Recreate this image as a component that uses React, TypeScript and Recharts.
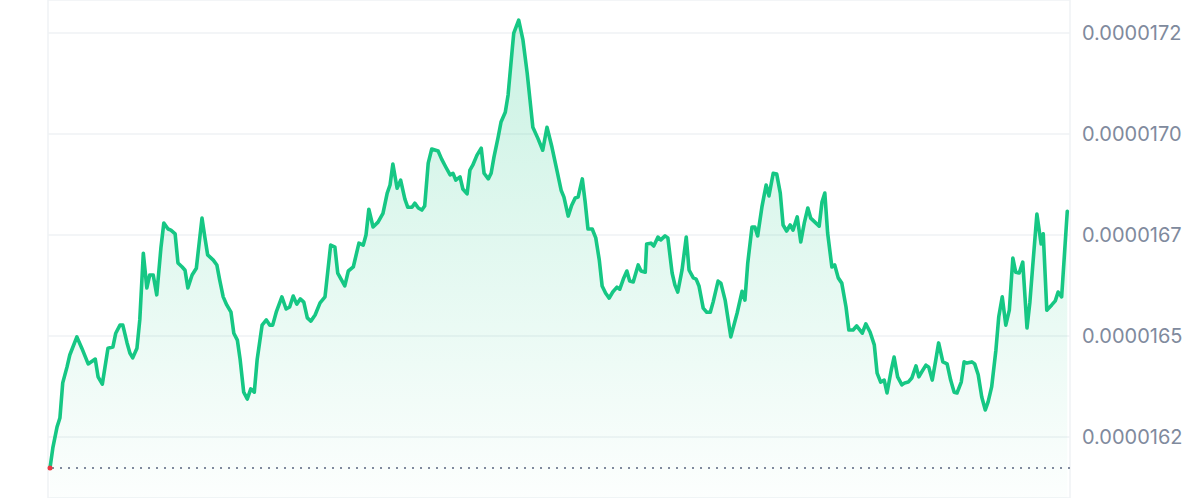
import React from 'react';
import {
  ComposedChart,
  Area,
  XAxis,
  YAxis,
  CartesianGrid,
  ReferenceLine,
  ReferenceDot,
} from 'recharts';

// minutes since start of the 24h window
const times = [
  0, 4, 10, 14, 18, 24, 28, 38, 45, 54, 64, 68, 74, 82, 89, 93, 99, 103, 109, 113,
  117, 123, 127, 132, 137, 141, 146, 151, 157, 161, 167, 171, 177, 181, 187, 191, 195, 201, 207, 215,
  219, 223, 231,
  236, 240, 245, 250, 256, 260, 265, 269, 274, 279, 284, 289, 293, 300, 306, 311, 315, 320, 328, 334,
  339, 344, 349, 354, 359, 364, 369, 375, 382, 389, 397, 403, 407, 417, 422, 429, 437, 443, 447, 451,
  457, 464,
  471, 477, 481, 485, 491, 496, 502, 506, 512, 516, 521, 526, 530, 535, 540, 549, 554, 560, 566, 570,
  574, 580, 584, 590, 594, 598, 604, 610, 614, 620, 624, 628, 634, 638, 644, 648, 654, 656, 663, 669,
  675, 679, 683, 690, 697,
  703, 710, 717, 723, 727, 733, 738, 743, 747, 753, 757, 761, 767, 772, 777, 781, 786, 791, 796, 802,
  806, 811, 816, 820, 825, 832, 836, 842, 844, 850, 854, 860, 864, 870, 874, 880, 884, 888, 894, 900,
  904, 910, 914, 918, 924, 929,
  934, 938, 945, 949, 955, 963, 972, 979, 983, 987, 993, 997, 1001, 1007, 1013, 1017, 1023, 1028, 1033, 1037,
  1042, 1047, 1051, 1057, 1062, 1067, 1072, 1076, 1082, 1088, 1092, 1096, 1100, 1106, 1110, 1115, 1120, 1126, 1130, 1136,
  1141, 1149, 1154, 1160,
  1166, 1170, 1175, 1180, 1184, 1190, 1194, 1199, 1205, 1209, 1214, 1219, 1225, 1229, 1233, 1239, 1243, 1248, 1253, 1257,
  1263, 1269, 1274, 1279, 1283, 1289, 1293, 1297, 1304, 1308, 1313, 1318, 1323, 1327, 1332, 1338, 1342, 1347, 1352, 1357,
  1362, 1366, 1371, 1376, 1382, 1386, 1390, 1396, 1402, 1405, 1410, 1417, 1422, 1426, 1431, 1439,
];

const prices = [
  1612.3e-8, 1617.3e-8, 1622.5e-8, 1624.7e-8, 1633.4e-8, 1637.3e-8, 1640.3e-8, 1644.8e-8, 1642.0e-8, 1638.1e-8,
  1639.3e-8, 1634.9e-8, 1633.1e-8, 1642.0e-8, 1642.3e-8, 1645.7e-8, 1647.7e-8, 1647.7e-8, 1643.3e-8, 1640.8e-8,
  1639.6e-8, 1642.0e-8, 1649.0e-8, 1665.5e-8, 1656.9e-8, 1660.1e-8, 1660.1e-8, 1655.2e-8, 1667.0e-8, 1673.0e-8,
  1671.5e-8, 1671.2e-8, 1670.3e-8, 1663.1e-8, 1662.1e-8, 1661.3e-8, 1656.9e-8, 1660.1e-8, 1661.8e-8, 1674.2e-8,
  1669.5e-8, 1665.1e-8, 1663.8e-8,
  1662.6e-8, 1658.9e-8, 1654.7e-8, 1652.7e-8, 1650.9e-8, 1645.7e-8, 1644.0e-8, 1639.1e-8, 1631.1e-8, 1629.4e-8,
  1631.9e-8, 1631.1e-8, 1639.1e-8, 1647.7e-8, 1649.0e-8, 1647.7e-8, 1647.7e-8, 1650.9e-8, 1654.7e-8, 1651.7e-8,
  1652.2e-8, 1654.9e-8, 1652.9e-8, 1654.2e-8, 1653.4e-8, 1649.5e-8, 1648.7e-8, 1650.2e-8, 1653.2e-8, 1654.7e-8,
  1667.5e-8, 1667.0e-8, 1660.6e-8, 1657.4e-8, 1661.1e-8, 1662.1e-8, 1668.0e-8, 1667.5e-8, 1670.0e-8, 1676.4e-8,
  1672.0e-8, 1673.2e-8,
  1675.4e-8, 1680.4e-8, 1682.4e-8, 1687.6e-8, 1681.6e-8, 1683.6e-8, 1678.9e-8, 1676.9e-8, 1676.9e-8, 1677.9e-8,
  1676.7e-8, 1676.2e-8, 1677.2e-8, 1687.8e-8, 1691.3e-8, 1690.8e-8, 1688.8e-8, 1686.8e-8, 1684.9e-8, 1685.3e-8,
  1683.6e-8, 1684.4e-8, 1681.4e-8, 1680.2e-8, 1686.1e-8, 1687.3e-8, 1689.8e-8, 1691.5e-8, 1685.3e-8, 1683.9e-8,
  1685.3e-8, 1689.3e-8, 1694.3e-8, 1698.0e-8, 1700.4e-8, 1704.7e-8, 1716.3e-8, 1720.0e-8, 1723.2e-8, 1718.3e-8,
  1710.1e-8, 1703.4e-8, 1696.7e-8, 1694.0e-8, 1691.0e-8,
  1696.7e-8, 1691.8e-8, 1686.1e-8, 1681.1e-8, 1679.4e-8, 1674.7e-8, 1677.4e-8, 1679.2e-8, 1679.4e-8, 1683.9e-8,
  1678.2e-8, 1671.5e-8, 1671.5e-8, 1669.3e-8, 1663.8e-8, 1657.4e-8, 1655.6e-8, 1654.4e-8, 1655.9e-8, 1657.1e-8,
  1656.6e-8, 1659.1e-8, 1661.1e-8, 1658.6e-8, 1658.4e-8, 1662.6e-8, 1661.1e-8, 1660.8e-8, 1667.8e-8, 1668.0e-8,
  1667.3e-8, 1669.5e-8, 1668.8e-8, 1669.8e-8, 1669.3e-8, 1660.6e-8, 1657.6e-8, 1655.9e-8, 1661.3e-8, 1669.5e-8,
  1661.3e-8, 1659.4e-8, 1659.1e-8, 1657.4e-8, 1651.9e-8, 1650.9e-8,
  1650.9e-8, 1653.4e-8, 1658.6e-8, 1658.1e-8, 1653.9e-8, 1644.8e-8, 1650.7e-8, 1656.1e-8, 1653.9e-8, 1663.1e-8,
  1672.0e-8, 1672.0e-8, 1669.8e-8, 1676.9e-8, 1682.4e-8, 1679.7e-8, 1685.3e-8, 1685.1e-8, 1680.4e-8, 1672.5e-8,
  1671.0e-8, 1672.5e-8, 1671.2e-8, 1674.5e-8, 1668.3e-8, 1673.0e-8, 1676.7e-8, 1674.2e-8, 1673.2e-8, 1672.2e-8,
  1678.2e-8, 1680.4e-8, 1670.5e-8, 1662.1e-8, 1662.6e-8, 1659.4e-8, 1658.1e-8, 1652.2e-8, 1646.5e-8, 1646.5e-8,
  1647.5e-8, 1645.7e-8, 1648.0e-8, 1646.0e-8,
  1642.8e-8, 1635.8e-8, 1633.6e-8, 1634.1e-8, 1630.9e-8, 1636.6e-8, 1639.8e-8, 1634.9e-8, 1632.9e-8, 1633.4e-8,
  1633.6e-8, 1634.6e-8, 1637.6e-8, 1634.9e-8, 1636.1e-8, 1637.8e-8, 1637.3e-8, 1634.1e-8, 1639.1e-8, 1643.3e-8,
  1638.6e-8, 1638.1e-8, 1634.1e-8, 1631.1e-8, 1630.9e-8, 1633.6e-8, 1638.6e-8, 1638.3e-8, 1638.6e-8, 1638.1e-8,
  1635.4e-8, 1629.9e-8, 1626.7e-8, 1628.7e-8, 1632.4e-8, 1641.5e-8, 1649.7e-8, 1654.7e-8, 1647.7e-8, 1651.4e-8,
  1664.3e-8, 1660.8e-8, 1660.6e-8, 1663.3e-8, 1647.0e-8, 1653.2e-8, 1662.1e-8, 1675.2e-8, 1667.8e-8, 1670.3e-8,
  1651.4e-8, 1652.7e-8, 1653.7e-8, 1655.9e-8, 1654.7e-8, 1675.9e-8,
];

const yTicks = [1620e-8, 1645e-8, 1670e-8, 1695e-8, 1720e-8];
const yTickLabels = ['0.0000162', '0.0000165', '0.0000167', '0.0000170', '0.0000172'];
const yDomain = [1604.9e-8, 1728.2e-8];
const xDomain = [0, 1440];

const data = times.map((t, i) => ({ t, price: prices[i] }));

export default function App() {
  return (
    <div style={{ position: 'absolute', left: 0, top: 0, width: 1200, height: 498, background: '#fff' }}>
      <ComposedChart
        width={1200}
        height={498}
        data={data}
        margin={{ top: 0, right: 0, bottom: 0, left: 48 }}
      >
        <defs>
          <linearGradient id="areaFill" x1="0" y1="0" x2="0" y2="1">
            <stop offset="0%" stopColor="#16c784" stopOpacity={0.38} />
            <stop offset="100%" stopColor="#16c784" stopOpacity={0.02} />
          </linearGradient>
        </defs>
        <CartesianGrid
          stroke="#eff2f5"
          strokeWidth={1.5}
          verticalCoordinatesGenerator={({ offset }: any) => [offset.left, offset.left + offset.width]}
        />
        <XAxis
          dataKey="t"
          type="number"
          domain={xDomain}
          hide
          padding={{ left: 2, right: 2 }}
        />
        <YAxis
          orientation="right"
          type="number"
          domain={yDomain}
          ticks={yTicks}
          width={130}
          axisLine={false}
          tickLine={false}
          tickMargin={6}
          interval={0}
          tickFormatter={(v: number, i: number) => yTickLabels[i]}
          tick={{ fill: '#808a9d', fontSize: 20, fontFamily: 'Inter, sans-serif' }}
        />
        <ReferenceLine
          y={prices[0]}
          stroke="#808a9d"
          strokeWidth={2}
          strokeDasharray="2 6"
        />
        <Area
          type="linear"
          dataKey="price"
          stroke="#16c784"
          strokeWidth={3.6}
          strokeLinejoin="round"
          strokeLinecap="round"
          fill="url(#areaFill)"
          isAnimationActive={false}
          dot={false}
          activeDot={false}
        />
        <ReferenceDot x={times[0]} y={prices[0]} r={2.5} fill="#ea3943" stroke="none" />
      </ComposedChart>
    </div>
  );
}
